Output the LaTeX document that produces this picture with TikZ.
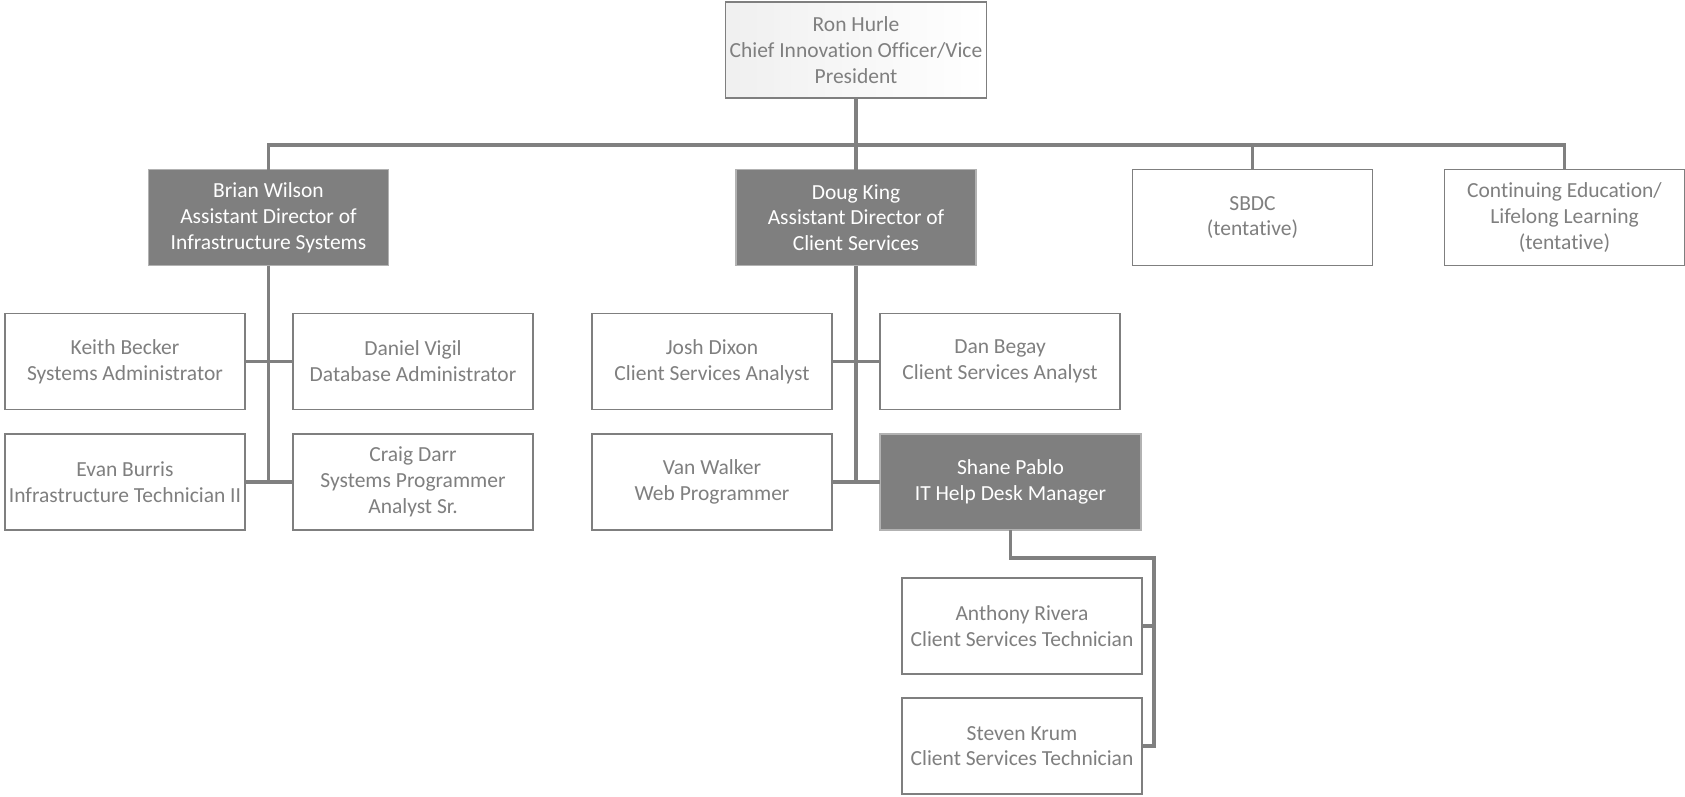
\documentclass[tikz,border=0pt]{standalone}
\usepackage{fontspec}
\setmainfont[Ligatures=NoCommon]{Carlito}
\usepackage{tikz}

\definecolor{boxgray}{RGB}{127,127,127}
\definecolor{linegray}{RGB}{128,128,128}

\begin{document}
\begin{tikzpicture}[x=1pt, y=-1pt,
  every node/.style={rectangle, align=center, inner sep=0pt, outer sep=0pt,
    minimum width=240pt, minimum height=96pt,
    font=\fontsize{21.5}{25.8}\selectfont},
  plainbox/.style={draw=boxgray, line width=1.5pt, fill=white, text=boxgray},
  headbox/.style={draw=black!30, line width=1.5pt, fill=boxgray, text=white},
  link/.style={draw=linegray, line width=3.2pt}]
\useasboundingbox (0,0) rectangle (1685,796);

\node[plainbox, minimum width=261pt, left color=black!6, right color=white] (ron) at (856,50) {Ron Hurle\\Chief Innovation Officer/Vice\\President};

\node[headbox] (brian) at (268.5,217.5) {Brian Wilson\\Assistant Director of\\Infrastructure Systems};
\node[headbox] (doug) at (856,217.5) {Doug King\\Assistant Director of\\Client Services};
\node[plainbox] (sbdc) at (1252.5,217.5) {SBDC\\(tentative)};
\node[plainbox] (cont) at (1564.5,217.5) {Continuing Education/\\Lifelong Learning\\(tentative)};

\node[plainbox] (keith) at (125,361.5) {Keith Becker\\Systems Administrator};
\node[plainbox] (daniel) at (413,361.5) {Daniel Vigil\\Database Administrator};
\node[plainbox] (evan) at (125,482) {Evan Burris\\Infrastructure Technician II};
\node[plainbox] (craig) at (413,482) {Craig Darr\\Systems Programmer\\Analyst Sr.};

\node[plainbox] (josh) at (712,361.5) {Josh Dixon\\Client Services Analyst};
\node[plainbox] (dan) at (1000,361.5) {Dan Begay\\Client Services Analyst};
\node[plainbox] (van) at (712,482) {Van Walker\\Web Programmer};
\node[headbox, minimum width=261pt] (shane) at (1010.5,482) {Shane Pablo\\IT Help Desk Manager};

\node[plainbox] (anthony) at (1022,626) {Anthony Rivera\\Client Services Technician};
\node[plainbox] (steven) at (1022,746) {Steven Krum\\Client Services Technician};

% top level
\coordinate (bar) at (856,145);
\coordinate (deskbus) at (1154,558);
\draw[link] (ron.south) -- (doug.north);
\draw[link] (brian.north) |- (bar) -| (cont.north);
\draw[link] (bar) -| (sbdc.north);

% infrastructure
\draw[link] (brian.south) -- (brian.south |- evan.east);
\draw[link] (keith.east) -- (daniel.west);
\draw[link] (evan.east) -- (craig.west);

% client services
\draw[link] (doug.south) -- (doug.south |- van.east);
\draw[link] (josh.east) -- (dan.west);
\draw[link] (van.east) -- (shane.west);

% help desk
\draw[link] (shane.south) |- (deskbus) -- (deskbus |- steven.east) -- (steven.east);
\draw[link] (anthony.east) -- (anthony.east -| deskbus);
\end{tikzpicture}
\end{document}
